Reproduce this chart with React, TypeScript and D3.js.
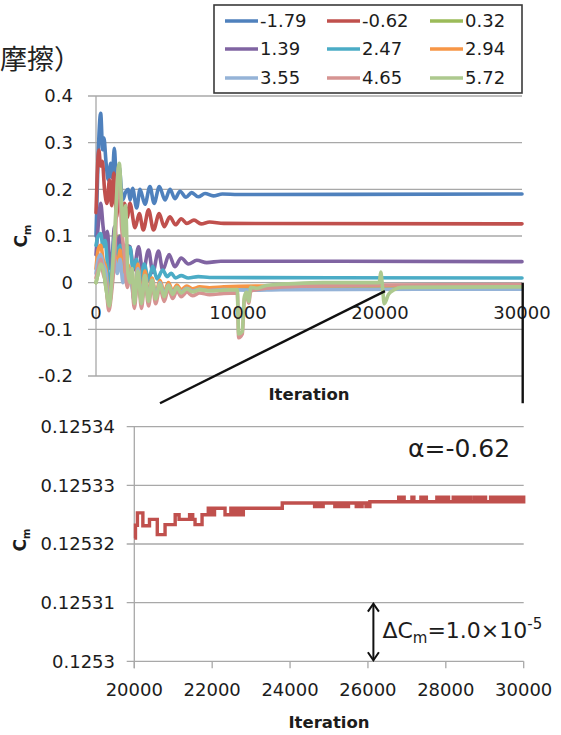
import React from "react";
import * as d3 from "d3";

const W = 561;
const H = 735;

// Angle-of-attack labels and series colours (legend order = draw order)
const ALPHA_LABELS = ["-1.79", "-0.62", "0.32", "1.39", "2.47", "2.94", "3.55", "4.65", "5.72"];
const SERIES_COLORS = ["#4F81BD", "#C0504D", "#9BBB59", "#8064A2", "#4BACC6", "#F79646", "#95B3D7", "#D69492", "#ADC98E"];

// Cm convergence histories [iteration, Cm]
const CM_M179: [number, number][] = [
  [0, 0.1], [150, 0.27], [330, 0.363], [470, 0.285], [560, 0.31], [700, 0.26], [870, 0.22], [1040, 0.256],
  [1150, 0.225], [1290, 0.288], [1450, 0.213], [1620, 0.25], [1880, 0.177], [2100, 0.195], [2280, 0.2],
  [2400, 0.177], [2580, 0.202], [2865, 0.16], [3100, 0.2], [3450, 0.168], [3800, 0.206], [4090, 0.17],
  [4460, 0.206], [4860, 0.177], [5210, 0.2], [5560, 0.18], [5915, 0.196], [6340, 0.183], [6740, 0.193],
  [7200, 0.184], [7680, 0.191], [8260, 0.186], [8900, 0.19], [10000, 0.189], [30000, 0.19],
];
const CM_M062: [number, number][] = [
  [0, 0.15], [200, 0.284], [330, 0.25], [450, 0.26], [600, 0.2], [775, 0.17], [950, 0.22], [1100, 0.165],
  [1250, 0.235], [1450, 0.14], [1600, 0.2], [1800, 0.15], [2000, 0.17], [2200, 0.14], [2390, 0.17],
  [2750, 0.118], [3050, 0.148], [3330, 0.113], [3700, 0.156], [4050, 0.113], [4450, 0.148], [4800, 0.12],
  [5200, 0.141], [5600, 0.124], [6000, 0.137], [6400, 0.127], [6900, 0.134], [7400, 0.126], [8000, 0.13],
  [9000, 0.127], [30000, 0.126],
];
const CM_P032: [number, number][] = [
  [0, 0.0], [150, 0.02], [330, 0.04], [500, 0.03], [700, -0.01], [940, -0.05], [1100, 0.0], [1300, 0.06],
  [1600, 0.1], [1900, 0.05], [2250, 0.02], [2450, 0.02], [2700, -0.04], [2950, 0.02], [3200, -0.04],
  [3450, 0.012], [3700, -0.035], [3950, 0.003], [4200, -0.03], [4500, -0.004], [4800, -0.027],
  [5100, -0.007], [5400, -0.023], [5700, -0.011], [6000, -0.02], [6400, -0.013], [6800, -0.018],
  [7300, -0.014], [8000, -0.016], [9000, -0.014], [12000, -0.01], [30000, -0.008],
];
const CM_P139: [number, number][] = [
  [0, 0.06], [150, 0.12], [330, 0.17], [500, 0.12], [650, 0.09], [800, 0.11], [1000, 0.03], [1150, 0.06],
  [1300, 0.12], [1500, 0.07], [1700, 0.1], [1900, 0.05], [2100, 0.08], [2400, 0.077], [2650, 0.027],
  [3000, 0.077], [3300, 0.02], [3700, 0.07], [4000, 0.022], [4400, 0.068], [4700, 0.027], [5150, 0.06],
  [5550, 0.034], [6000, 0.053], [6500, 0.04], [7100, 0.048], [7800, 0.043], [8800, 0.046], [30000, 0.045],
];
const CM_P247: [number, number][] = [
  [0, 0.08], [150, 0.1], [330, 0.105], [500, 0.077], [650, 0.09], [800, 0.04], [950, -0.01], [1100, 0.02],
  [1300, 0.1], [1500, 0.05], [1700, 0.08], [1900, 0.04], [2200, 0.06], [2400, 0.075], [2600, 0.03],
  [2850, 0.05], [3100, 0.0], [3400, 0.04], [3700, 0.005], [4000, 0.035], [4300, 0.008], [4700, 0.027],
  [5000, 0.013], [5300, 0.02], [5600, 0.01], [6000, 0.015], [6500, 0.01], [7200, 0.013], [8000, 0.011],
  [30000, 0.01],
];
const CM_P294: [number, number][] = [
  [0, 0.03], [150, 0.07], [330, 0.08], [500, 0.05], [700, 0.03], [900, -0.04], [1100, 0.0], [1300, 0.06],
  [1500, 0.03], [1700, 0.07], [1900, 0.02], [2200, 0.04], [2450, 0.02], [2700, -0.03], [2950, 0.04],
  [3200, -0.035], [3450, 0.025], [3700, -0.03], [3950, 0.01], [4200, -0.025], [4500, 0.005], [4800, -0.02],
  [5100, 0.0], [5400, -0.018], [5700, -0.005], [6000, -0.015], [6400, -0.007], [6800, -0.013],
  [7300, -0.009], [8000, -0.011], [9000, -0.009], [12000, -0.007], [30000, -0.006],
];
const CM_P355: [number, number][] = [
  [0, 0.02], [150, 0.05], [330, 0.06], [500, 0.04], [700, 0.02], [900, -0.05], [1100, -0.01], [1300, 0.05],
  [1500, 0.02], [1700, 0.05], [1900, 0.0], [2200, 0.03], [2450, 0.01], [2700, -0.04], [2950, 0.03],
  [3200, -0.04], [3450, 0.015], [3700, -0.035], [3950, 0.005], [4200, -0.03], [4500, 0.0], [4800, -0.025],
  [5100, -0.005], [5400, -0.022], [5700, -0.01], [6000, -0.02], [6400, -0.012], [6800, -0.018],
  [7300, -0.014], [8000, -0.017], [9000, -0.015], [11000, -0.016], [13000, -0.015], [30000, -0.014],
];
const CM_P465: [number, number][] = [
  [0, 0.01], [150, 0.03], [330, 0.05], [500, 0.02], [700, 0.0], [900, -0.06], [1100, -0.02], [1300, 0.05],
  [1600, 0.25], [1800, 0.12], [2000, 0.06], [2200, -0.01], [2450, 0.03], [2700, -0.055], [2950, 0.02],
  [3200, -0.055], [3450, 0.01], [3700, -0.05], [3950, 0.0], [4200, -0.045], [4500, -0.01], [4800, -0.04],
  [5100, -0.012], [5400, -0.034], [5700, -0.017], [6000, -0.03], [6400, -0.02], [6800, -0.028],
  [7300, -0.022], [8000, -0.026], [9000, -0.023], [9950, -0.022], [10050, -0.118], [10300, -0.11],
  [10450, -0.035], [10600, -0.024], [10750, -0.044], [10900, -0.018], [12000, -0.012], [14000, -0.008],
  [17000, -0.006], [20000, -0.005], [30000, -0.004],
];
const CM_P572: [number, number][] = [
  [0, 0.0], [150, 0.02], [330, 0.04], [500, 0.03], [700, -0.01], [940, -0.05], [1100, 0.0], [1300, 0.1],
  [1640, 0.256], [1800, 0.17], [1950, 0.1], [2080, 0.165], [2250, 0.02], [2400, 0.0], [2550, 0.03],
  [2700, -0.045], [2950, 0.025], [3200, -0.045], [3450, 0.015], [3700, -0.04], [3950, 0.005],
  [4200, -0.035], [4500, -0.003], [4800, -0.03], [5100, -0.006], [5400, -0.025], [5700, -0.01],
  [6000, -0.022], [6400, -0.013], [6800, -0.02], [7300, -0.015], [8000, -0.018], [9000, -0.016],
  [9950, -0.015], [10050, -0.11], [10300, -0.105], [10450, -0.03], [10600, -0.02], [10750, -0.04],
  [10900, -0.01], [11300, -0.012], [12000, -0.006], [14000, -0.002], [16000, 0.0], [19950, 0.0],
  [20050, 0.023], [20150, 0.0], [20300, -0.045], [20600, -0.025], [21000, -0.015], [21500, -0.01],
  [30000, -0.009],
];
const TOP_SERIES = [CM_M179, CM_M062, CM_P032, CM_P139, CM_P247, CM_P294, CM_P355, CM_P465, CM_P572];

const TOP_Y_TICKS = [0.4, 0.3, 0.2, 0.1, 0, -0.1, -0.2];
const TOP_X_TICKS = [0, 10000, 20000, 30000];

// Close-up of alpha = -0.62 between 20000 and 30000 iterations.
// Where Cm flickers between two stored levels the band spans both.
const ZOOM_ITER = [
  20000, 20030, 20080, 20220, 20390, 20590, 20790, 21050, 21150, 21420, 21500, 21560, 21740, 21900, 22060,
  22330, 22480, 22800, 23800, 24630, 24850, 25150, 25500, 25700, 25850, 25950, 26050, 26790, 26930, 27130,
  27180, 27360, 27500, 27770, 28070, 28190, 28650, 28740, 29020, 29150, 30000,
];
const ZOOM_CM_LOW = [
  0.125321, 0.1253232, 0.1253253, 0.1253231, 0.1253242, 0.1253216, 0.1253233, 0.125325, 0.1253242,
  0.1253242, 0.1253242, 0.1253233, 0.125325, 0.125325, 0.1253261, 0.125325, 0.125325, 0.1253261, 0.125327,
  0.1253264, 0.125327, 0.1253264, 0.125327, 0.1253264, 0.125327, 0.1253264, 0.1253272, 0.1253272,
  0.1253272, 0.1253272, 0.1253272, 0.1253272, 0.1253272, 0.1253272, 0.1253272, 0.1253272, 0.1253272,
  0.1253272, 0.1253272, 0.1253272, 0.1253272,
];
const ZOOM_CM_HIGH = [
  0.125321, 0.1253232, 0.1253253, 0.1253231, 0.1253242, 0.1253216, 0.1253233, 0.125325, 0.1253242,
  0.125325, 0.1253242, 0.1253233, 0.125325, 0.1253261, 0.1253261, 0.125325, 0.1253261, 0.1253261, 0.125327,
  0.125327, 0.125327, 0.125327, 0.125327, 0.125327, 0.125327, 0.125327, 0.1253272, 0.125328, 0.1253272,
  0.125328, 0.1253272, 0.125328, 0.1253272, 0.125328, 0.1253272, 0.125328, 0.1253272, 0.125328,
  0.1253272, 0.125328, 0.125328,
];
const BOT_Y_TICKS = [0.12534, 0.12533, 0.12532, 0.12531, 0.1253];
const BOT_X_TICKS = [20000, 22000, 24000, 26000, 28000, 30000];

// Zoom link: from the top chart near iteration 20000 toward the close-up panel
const LINK_FROM: [number, number] = [20350, -0.018];
const LINK_TO: [number, number] = [20660, 0.125344];
const DELTA_ARROW_ITER = 26140;

const FONT = "'DejaVu Sans', sans-serif";
const TEXT = "#1c1c1c";
const GRID = "#a8a8a8";

function CmTitle({ x, y }: { x: number; y: number }) {
  return (
    <text
      transform={`translate(${x},${y}) rotate(-90)`}
      textAnchor="middle"
      fontFamily={FONT}
      fontWeight="bold"
      fontSize={17}
      fill={TEXT}
    >
      C
      <tspan fontSize={10} dy={4}>m</tspan>
    </text>
  );
}

export default function App() {
  const xTop = d3.scaleLinear().domain([0, 30000]).range([96, 522]);
  const yTop = d3.scaleLinear().domain([-0.2, 0.4]).range([376, 96]);
  const xBot = d3.scaleLinear().domain([20000, 30000]).range([134.3, 523.7]);
  const yBot = d3.scaleLinear().domain([0.1253, 0.12534]).range([661.3, 426.7]);

  const topLine = d3
    .line<[number, number]>()
    .x((d) => xTop(d[0]))
    .y((d) => yTop(d[1]))
    .curve(d3.curveMonotoneX);

  const zoomRows = ZOOM_ITER.map((it, i) => ({ it, lo: ZOOM_CM_LOW[i], hi: ZOOM_CM_HIGH[i] }));
  const zoomArea = d3
    .area<{ it: number; lo: number; hi: number }>()
    .x((d) => xBot(d.it))
    .y0((d) => yBot(d.lo))
    .y1((d) => yBot(d.hi))
    .curve(d3.curveStepAfter);

  const legendCols = [225, 327, 430];
  const legendRows = [21, 49, 78];

  const arrowX = xBot(DELTA_ARROW_ITER);
  const aTop = yBot(0.12531);
  const aBot = yBot(0.1253);

  return (
    <svg
      width={W}
      height={H}
      viewBox={`0 0 ${W} ${H}`}
      style={{ position: "absolute", left: 0, top: 0, background: "#fff" }}
    >
      <rect x={0} y={0} width={W} height={H} fill="#fff" />

      {/* heading fragment */}
      <text x={0} y={69} fontFamily="'Noto Sans CJK JP', sans-serif" fontSize={27} fill="#222">
        摩擦）
      </text>

      {/* ===== top chart ===== */}
      {TOP_Y_TICKS.map((v) => (
        <g key={"tg" + v}>
          <line x1={88} x2={xTop(30000)} y1={yTop(v)} y2={yTop(v)} stroke={GRID} strokeWidth={1.3} />
          <text x={73} y={yTop(v)} dy="0.36em" textAnchor="end" fontFamily={FONT} fontSize={18} fill={TEXT}>
            {String(v)}
          </text>
        </g>
      ))}
      <line x1={xTop(0)} x2={xTop(0)} y1={yTop(0.4)} y2={yTop(-0.2)} stroke={GRID} strokeWidth={1.3} />

      {TOP_SERIES.map((s, i) => (
        <path
          key={"s" + i}
          d={topLine(s) || ""}
          fill="none"
          stroke={SERIES_COLORS[i]}
          strokeWidth={3.6}
          strokeLinejoin="round"
          strokeLinecap="round"
        />
      ))}

      {TOP_X_TICKS.map((v) => (
        <text key={"tx" + v} x={xTop(v)} y={318.5} textAnchor="middle" fontFamily={FONT} fontSize={18} fill={TEXT}>
          {String(v)}
        </text>
      ))}
      <text x={(xTop(0) + xTop(30000)) / 2} y={400} textAnchor="middle" fontFamily={FONT} fontWeight="bold" fontSize={16.5} fill={TEXT}>
        Iteration
      </text>
      <CmTitle x={27} y={236} />

      {/* legend */}
      <rect x={214} y={5} width={308} height={88} fill="#fff" stroke="#3a3a3a" strokeWidth={1.6} />
      {ALPHA_LABELS.map((lab, i) => {
        const cx = legendCols[i % 3];
        const cy = legendRows[Math.floor(i / 3)];
        return (
          <g key={"lg" + i}>
            <line x1={cx} x2={cx + 33} y1={cy} y2={cy} stroke={SERIES_COLORS[i]} strokeWidth={3.4} />
            <text x={cx + 35} y={cy} dy="0.36em" fontFamily={FONT} fontSize={18} fill={TEXT}>
              {lab}
            </text>
          </g>
        );
      })}

      {/* zoom links */}
      <line
        x1={xTop(LINK_FROM[0])}
        y1={yTop(LINK_FROM[1])}
        x2={xBot(LINK_TO[0])}
        y2={yBot(LINK_TO[1])}
        stroke="#111"
        strokeWidth={2.4}
      />
      <line
        x1={xTop(30000) + 0.7}
        y1={yTop(0)}
        x2={xTop(30000) + 0.7}
        y2={yBot(LINK_TO[1])}
        stroke="#111"
        strokeWidth={2.4}
      />

      {/* ===== close-up chart ===== */}
      {BOT_Y_TICKS.map((v) => (
        <g key={"bg" + v}>
          <line x1={126.7} x2={xBot(30000)} y1={yBot(v)} y2={yBot(v)} stroke={GRID} strokeWidth={1.3} />
          <text x={115} y={yBot(v)} dy="0.36em" textAnchor="end" fontFamily={FONT} fontSize={18} fill={TEXT}>
            {String(v)}
          </text>
        </g>
      ))}
      <line x1={xBot(20000)} x2={xBot(20000)} y1={yBot(0.12534)} y2={yBot(0.1253) + 7} stroke={GRID} strokeWidth={1.3} />
      {BOT_X_TICKS.map((v) => (
        <g key={"bx" + v}>
          <line x1={xBot(v)} x2={xBot(v)} y1={yBot(0.1253)} y2={yBot(0.1253) + 7} stroke={GRID} strokeWidth={1.3} />
          <text x={xBot(v)} y={695.5} textAnchor="middle" fontFamily={FONT} fontSize={18} fill={TEXT}>
            {String(v)}
          </text>
        </g>
      ))}

      <path
        d={zoomArea(zoomRows) || ""}
        fill="#C0504D"
        stroke="#C0504D"
        strokeWidth={3.4}
        strokeLinejoin="miter"
      />

      <text x={(xBot(20000) + xBot(30000)) / 2} y={728} textAnchor="middle" fontFamily={FONT} fontWeight="bold" fontSize={16.5} fill={TEXT}>
        Iteration
      </text>
      <CmTitle x={26} y={540} />

      <text x={408} y={457} fontFamily={FONT} fontSize={25} fill={TEXT}>
        α=-0.62
      </text>

      {/* delta bracket */}
      <g stroke="#111" strokeWidth={2} fill="none">
        <line x1={arrowX} x2={arrowX} y1={aTop + 1} y2={aBot - 1} />
        <polyline points={`${arrowX - 5.5},${aTop + 9} ${arrowX},${aTop + 1} ${arrowX + 5.5},${aTop + 9}`} />
        <polyline points={`${arrowX - 5.5},${aBot - 9} ${arrowX},${aBot - 1} ${arrowX + 5.5},${aBot - 9}`} />
      </g>
      <text x={arrowX + 9} y={638} fontFamily={FONT} fontSize={22} fill={TEXT}>
        ΔC
        <tspan fontSize={15} dy={5}>m</tspan>
        <tspan dy={-5}>=1.0×10</tspan>
        <tspan fontSize={15} dy={-9}>-5</tspan>
      </text>
    </svg>
  );
}
